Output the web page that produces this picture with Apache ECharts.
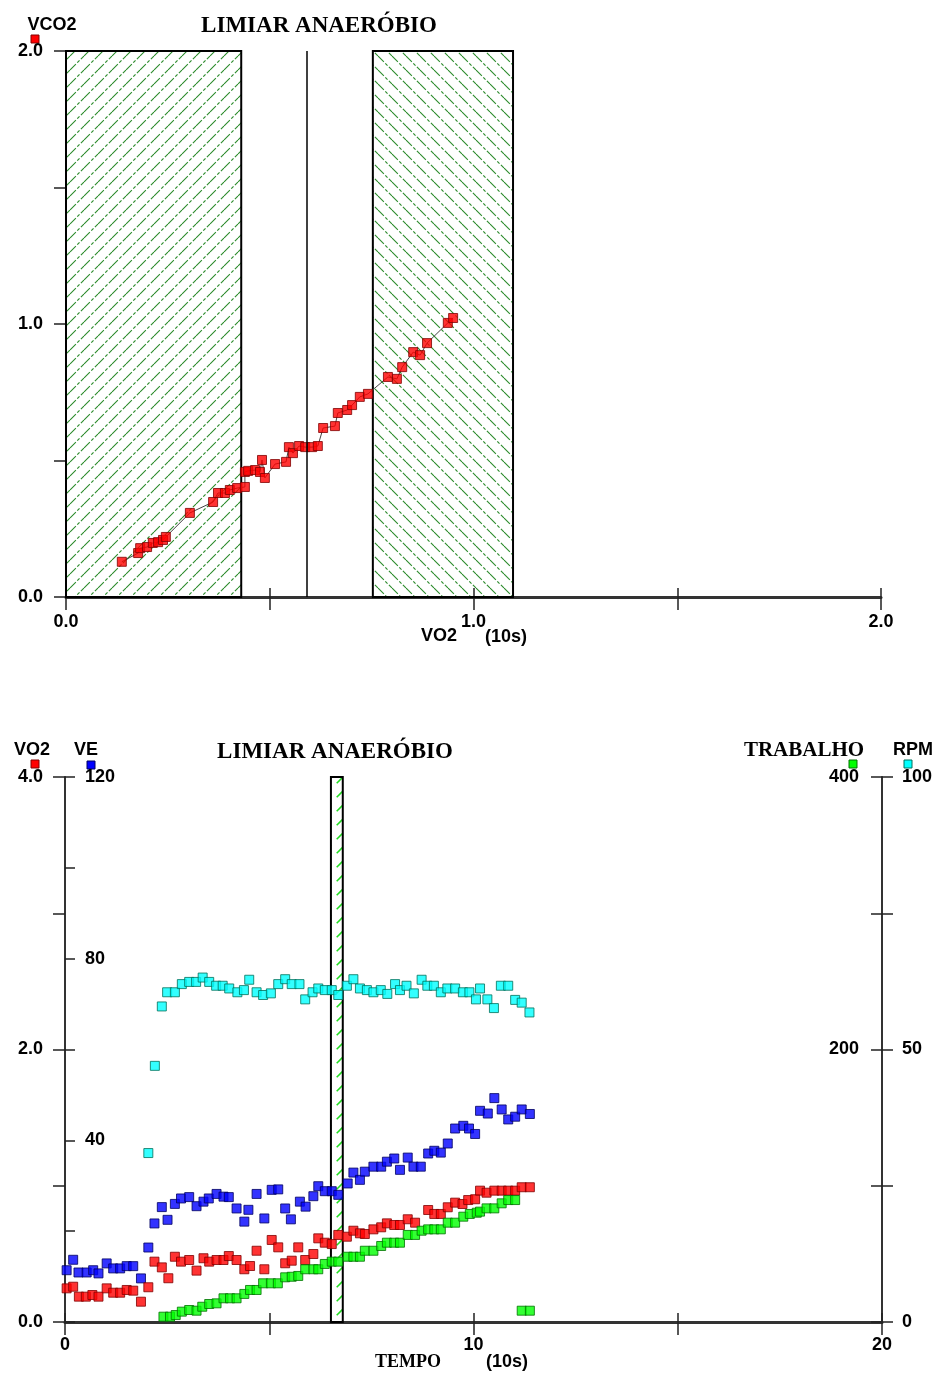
<!DOCTYPE html>
<html><head><meta charset="utf-8">
<script src="https://cdn.jsdelivr.net/npm/echarts@6/dist/echarts.min.js"></script>
<style>html,body{margin:0;padding:0;background:#fff}#c{width:939px;height:1384px}</style>
</head><body><div id="c"></div>
<script>
// ---------- TOP CHART DATA (VCO2 vs VO2) ----------
const vo2Top = [0.137,0.177,0.182,0.199,0.213,0.226,0.238,0.245,0.304,0.361,0.373,0.390,0.402,0.420,0.439,0.439,0.447,0.464,0.476,0.481,0.488,0.513,0.540,0.547,0.557,0.572,0.587,0.604,0.618,0.631,0.660,0.667,0.690,0.702,0.721,0.741,0.790,0.812,0.825,0.852,0.869,0.886,0.937,0.950];
const vco2Top = [0.129,0.161,0.179,0.183,0.198,0.201,0.209,0.220,0.308,0.348,0.381,0.381,0.392,0.399,0.403,0.458,0.462,0.465,0.458,0.502,0.436,0.487,0.495,0.549,0.527,0.553,0.549,0.549,0.553,0.619,0.626,0.674,0.685,0.703,0.733,0.744,0.806,0.799,0.842,0.897,0.886,0.930,1.004,1.022];
const topHatchStart = [0, 0.753];
const topHatchEnd = [0.43, 1.097];
const topThreshold = 0.591;
const topXLabelValues = [0, 1, 2];
const topYLabelValues = [0, 1, 2];

// ---------- BOTTOM CHART DATA (vs TEMPO) ----------
const tVO2 = [0.04,0.20,0.34,0.51,0.67,0.82,1.02,1.18,1.35,1.51,1.67,1.86,2.04,2.19,2.37,2.53,2.69,2.84,3.04,3.22,3.39,3.53,3.71,3.88,4.01,4.20,4.39,4.53,4.69,4.88,5.06,5.22,5.39,5.55,5.71,5.88,6.08,6.20,6.36,6.53,6.69,6.90,7.06,7.22,7.34,7.55,7.74,7.88,8.06,8.20,8.39,8.57,8.89,9.04,9.20,9.37,9.55,9.73,9.87,10.04,10.16,10.32,10.51,10.69,10.85,11.02,11.18,11.38];
const vo2 = [0.247,0.259,0.186,0.186,0.198,0.186,0.247,0.215,0.215,0.235,0.230,0.149,0.255,0.443,0.401,0.321,0.479,0.443,0.455,0.377,0.468,0.443,0.455,0.455,0.484,0.455,0.387,0.411,0.523,0.387,0.602,0.548,0.431,0.450,0.548,0.455,0.499,0.614,0.582,0.572,0.639,0.626,0.670,0.651,0.646,0.680,0.695,0.724,0.712,0.712,0.754,0.729,0.822,0.793,0.793,0.842,0.876,0.866,0.895,0.901,0.964,0.949,0.964,0.964,0.964,0.964,0.989,0.989];
const tVE = [0.04,0.20,0.33,0.53,0.69,0.82,1.02,1.18,1.35,1.51,1.67,1.86,2.04,2.19,2.37,2.51,2.69,2.84,3.04,3.22,3.39,3.52,3.71,3.88,4.01,4.20,4.39,4.49,4.69,4.88,5.06,5.22,5.39,5.53,5.75,5.89,6.08,6.20,6.36,6.53,6.69,6.92,7.06,7.22,7.34,7.55,7.74,7.88,8.06,8.20,8.39,8.53,8.71,8.89,9.04,9.20,9.37,9.55,9.75,9.89,10.04,10.16,10.35,10.51,10.69,10.85,11.02,11.18,11.38];
const ve = [11.4,13.7,10.9,10.9,11.4,10.7,12.9,11.8,11.8,12.3,12.3,9.6,16.4,21.7,25.3,22.5,26.0,27.2,27.5,25.5,26.5,27.2,28.2,27.6,27.5,25.0,22.1,24.7,28.2,22.8,29.1,29.2,25.0,22.6,26.5,25.4,27.7,29.9,28.8,28.8,28.0,30.5,32.9,31.3,33.1,34.2,34.2,35.3,36.0,33.5,36.2,34.2,34.2,37.1,37.7,37.3,39.3,42.6,43.2,42.6,41.4,46.5,45.9,49.3,46.8,44.6,45.2,46.8,45.8];
const tTrab = [2.41,2.57,2.71,2.86,3.04,3.22,3.36,3.53,3.71,3.88,4.04,4.20,4.39,4.53,4.69,4.85,5.04,5.21,5.39,5.55,5.71,5.88,6.08,6.20,6.36,6.53,6.69,6.92,7.06,7.22,7.34,7.55,7.74,7.88,8.06,8.20,8.39,8.57,8.73,8.89,9.04,9.20,9.37,9.55,9.75,9.91,10.08,10.16,10.32,10.51,10.69,10.85,11.02,11.18,11.38];
const trabalho = [3.9,3.9,5.1,7.6,8.8,8.3,11.2,13.2,13.7,17.4,17.4,17.4,20.6,23.5,23.5,28.4,28.4,28.4,32.8,33.2,33.8,38.7,38.7,38.7,42.6,44.3,44.3,47.9,47.9,47.9,52.3,52.3,55.8,58.2,58.2,58.2,63.9,63.9,67.0,68.0,68.0,68.0,72.9,72.9,77.3,79.3,80.2,81.0,83.4,83.4,87.1,89.5,89.5,8.3,8.3];
const tRPM = [2.04,2.20,2.37,2.50,2.69,2.86,3.04,3.21,3.37,3.53,3.70,3.86,4.02,4.22,4.38,4.51,4.69,4.85,5.04,5.22,5.39,5.55,5.74,5.88,6.06,6.20,6.36,6.53,6.69,6.90,7.06,7.22,7.39,7.55,7.73,7.89,8.08,8.20,8.36,8.54,8.73,8.87,9.03,9.20,9.36,9.55,9.74,9.90,10.06,10.16,10.34,10.50,10.67,10.85,11.02,11.18,11.37];
const rpm = [31.0,47.0,57.9,60.5,60.5,62.0,62.4,62.4,63.2,62.4,61.7,61.7,61.2,60.5,60.9,62.8,60.5,60.0,60.3,62.0,62.9,62.0,62.0,59.2,60.5,61.2,60.9,60.9,60.0,61.7,62.9,61.2,60.9,60.5,60.9,60.2,62.0,60.9,61.7,60.3,62.8,61.7,61.7,60.5,61.2,61.2,60.5,60.5,59.2,61.2,59.2,57.6,61.7,61.7,59.1,58.6,56.8];
const botHatchStart = [6.51];
const botHatchEnd = [6.80];
const botXLabelValues = [0, 10, 20];
const vo2LabelValues = [0, 2, 4];
const veLabelValues = [40, 80, 120];
const trabLabelValues = [200, 400];
const rpmLabelValues = [0, 50, 100];

// ---------- helpers ----------
function zip(a, b) { return a.map((v, i) => [v, b[i]]); }
function makeHatch(size, color, dir, segs, lw) {
  const c = document.createElement('canvas');
  c.width = size; c.height = size;
  const g = c.getContext('2d');
  g.strokeStyle = color; g.lineWidth = lw;
  for (let k = -size; k <= size; k += size) {
    for (const s of segs) {
      g.beginPath();
      if (dir > 0) {
        g.moveTo(k + s[0] * size, size - s[0] * size);
        g.lineTo(k + s[1] * size, size - s[1] * size);
      } else {
        g.moveTo(k + s[0] * size, s[0] * size);
        g.lineTo(k + s[1] * size, s[1] * size);
      }
      g.stroke();
    }
  }
  return c;
}
const hatchDarkFwd = makeHatch(14, '#2a8a2a', 1, [[0.0, 0.42], [0.52, 0.68], [0.78, 1.0]], 1.1);
const hatchDarkBack = makeHatch(14, '#2a8a2a', -1, [[0.0, 0.42], [0.52, 0.68], [0.78, 1.0]], 1.1);
const hatchLight = makeHatch(14, '#22dd22', 1, [[0.05, 0.65]], 1.6);

const SANS = '"Liberation Sans", Arial, sans-serif';
const SERIF = '"Liberation Serif", "Times New Roman", serif';
const lblStyle = { fontFamily: SANS, fontWeight: 'bold', fontSize: 18, color: '#000' };

function fmt(list, dec) { return v => list.some(x => Math.abs(x - v) < 1e-9) ? v.toFixed(dec) : ''; }

function hatchSeries(xi, yi, starts, ends, patterns) {
  return {
    type: 'custom', xAxisIndex: xi, yAxisIndex: yi, z: 1, silent: true,
    data: starts.map((s, i) => [s, ends[i], i]),
    renderItem(params, api) {
      const cs = params.coordSys;
      const x0 = api.coord([api.value(0), 0])[0];
      const x1 = api.coord([api.value(1), 0])[0];
      return {
        type: 'rect',
        shape: { x: x0, y: cs.y, width: x1 - x0, height: cs.height },
        style: { fill: { image: patterns[api.value(2)], repeat: 'repeat' }, stroke: '#000', lineWidth: 2 }
      };
    }
  };
}

function sq(color, border) {
  return { color: color, borderColor: border, borderWidth: 1 };
}

const axisLineX = { show: true, onZero: false, lineStyle: { color: '#333', width: 3 } };
const axisLineY = { show: true, onZero: false, lineStyle: { color: '#333', width: 2 } };
const tickStyle = { color: '#222', width: 1.5 };
const MS = 9;

const option = {
  backgroundColor: '#fff',
  animation: false,
  grid: [
    { left: 66, top: 51, width: 815, height: 546 },
    { left: 65, top: 777, width: 817, height: 545 }
  ],
  xAxis: [
    { gridIndex: 0, type: 'value', position: 'bottom', min: 0, max: 2, interval: 0.5,
      axisLine: axisLineX, axisTick: { show: true, length: 13, lineStyle: tickStyle },
      axisLabel: Object.assign({ margin: 16, formatter: fmt(topXLabelValues, 1) }, lblStyle),
      splitLine: { show: false } },
    { gridIndex: 0, type: 'value', position: 'bottom', min: 0, max: 2, interval: 0.5,
      axisLine: { show: false, onZero: false }, axisTick: { show: true, inside: true, length: 9, lineStyle: tickStyle },
      axisLabel: { show: false }, splitLine: { show: false } },
    { gridIndex: 1, type: 'value', position: 'bottom', min: 0, max: 20, interval: 5,
      axisLine: axisLineX, axisTick: { show: true, length: 13, lineStyle: tickStyle },
      axisLabel: Object.assign({ margin: 14, formatter: fmt(botXLabelValues, 0) }, lblStyle),
      splitLine: { show: false } },
    { gridIndex: 1, type: 'value', position: 'bottom', min: 0, max: 20, interval: 5,
      axisLine: { show: false, onZero: false }, axisTick: { show: true, inside: true, length: 9, lineStyle: tickStyle },
      axisLabel: { show: false }, splitLine: { show: false } }
  ],
  yAxis: [
    { gridIndex: 0, type: 'value', position: 'left', min: 0, max: 2, interval: 0.5,
      axisLine: axisLineY, axisTick: { show: true, length: 12, lineStyle: tickStyle },
      axisLabel: Object.assign({ margin: 23, formatter: fmt(topYLabelValues, 1) }, lblStyle),
      splitLine: { show: false } },
    { gridIndex: 1, type: 'value', position: 'left', min: 0, max: 4, interval: 1,
      axisLine: axisLineY, axisTick: { show: true, length: 12, lineStyle: tickStyle },
      axisLabel: Object.assign({ margin: 22, formatter: fmt(vo2LabelValues, 1) }, lblStyle),
      splitLine: { show: false } },
    { gridIndex: 1, type: 'value', position: 'left', min: 0, max: 120, interval: 20,
      axisLine: { show: false, onZero: false }, axisTick: { show: true, inside: true, length: 10, lineStyle: tickStyle },
      axisLabel: Object.assign({ inside: true, margin: 20, formatter: v => (veLabelValues.includes(v) ? String(v) : '') }, lblStyle),
      splitLine: { show: false } },
    { gridIndex: 1, type: 'value', position: 'right', min: 0, max: 400, interval: 100,
      axisLine: axisLineY, axisTick: { show: true, inside: true, length: 11, lineStyle: tickStyle },
      axisLabel: Object.assign({ inside: true, margin: 23, formatter: v => (trabLabelValues.includes(v) ? String(v) : '') }, lblStyle),
      splitLine: { show: false } },
    { gridIndex: 1, type: 'value', position: 'right', min: 0, max: 100, interval: 25,
      axisLine: { show: false, onZero: false }, axisTick: { show: true, length: 11, lineStyle: tickStyle },
      axisLabel: Object.assign({ margin: 20, formatter: v => (rpmLabelValues.includes(v) ? String(v) : '') }, lblStyle),
      splitLine: { show: false } }
  ],
  series: [
    hatchSeries(0, 0, topHatchStart, topHatchEnd, [hatchDarkFwd, hatchDarkBack]),
    { type: 'line', xAxisIndex: 0, yAxisIndex: 0, z: 3, silent: true, symbol: 'none',
      data: zip(vo2Top, vco2Top), lineStyle: { color: '#444', width: 1 },
      markLine: { silent: true, symbol: 'none', label: { show: false },
        lineStyle: { color: '#000', width: 1.5, type: 'solid' },
        data: [{ xAxis: topThreshold }] } },
    { type: 'scatter', xAxisIndex: 0, yAxisIndex: 0, z: 4, symbol: 'rect', symbolSize: MS,
      data: zip(vo2Top, vco2Top), itemStyle: sq('#ff0000', '#800000') },

    hatchSeries(2, 1, botHatchStart, botHatchEnd, [hatchLight]),
    { type: 'scatter', xAxisIndex: 2, yAxisIndex: 4, z: 4, symbol: 'rect', symbolSize: MS,
      data: zip(tRPM, rpm), itemStyle: sq('#00ffff', '#00705a') },
    { type: 'scatter', xAxisIndex: 2, yAxisIndex: 2, z: 4, symbol: 'rect', symbolSize: MS,
      data: zip(tVE, ve), itemStyle: sq('#0000ff', '#000060') },
    { type: 'scatter', xAxisIndex: 2, yAxisIndex: 1, z: 4, symbol: 'rect', symbolSize: MS,
      data: zip(tVO2, vo2), itemStyle: sq('#ff0000', '#800000') },
    { type: 'scatter', xAxisIndex: 2, yAxisIndex: 3, z: 4, symbol: 'rect', symbolSize: MS,
      data: zip(tTrab, trabalho), itemStyle: sq('#00ff00', '#007000') }
  ],
  graphic: [
    // top chart
    { type: 'text', style: { text: 'LIMIAR ANAERÓBIO', x: 319, y: 26, align: 'center', verticalAlign: 'middle', font: 'bold 23px ' + SERIF, fill: '#000' } },
    { type: 'text', style: { text: 'VCO2', x: 52, y: 25, align: 'center', verticalAlign: 'middle', font: 'bold 18px ' + SANS, fill: '#000' } },
    { type: 'rect', shape: { x: 31, y: 35, width: 8, height: 8 }, style: { fill: '#ff0000', stroke: '#800000', lineWidth: 1 } },
    { type: 'text', style: { text: 'VO2', x: 439, y: 636, align: 'center', verticalAlign: 'middle', font: 'bold 18px ' + SANS, fill: '#000' } },
    { type: 'text', style: { text: '(10s)', x: 506, y: 637, align: 'center', verticalAlign: 'middle', font: 'bold 18px ' + SANS, fill: '#000' } },
    // bottom chart
    { type: 'text', style: { text: 'LIMIAR ANAERÓBIO', x: 335, y: 752, align: 'center', verticalAlign: 'middle', font: 'bold 23px ' + SERIF, fill: '#000' } },
    { type: 'text', style: { text: 'VO2', x: 32, y: 750, align: 'center', verticalAlign: 'middle', font: 'bold 18px ' + SANS, fill: '#000' } },
    { type: 'rect', shape: { x: 31, y: 760, width: 8, height: 8 }, style: { fill: '#ff0000', stroke: '#800000', lineWidth: 1 } },
    { type: 'text', style: { text: 'VE', x: 86, y: 750, align: 'center', verticalAlign: 'middle', font: 'bold 18px ' + SANS, fill: '#000' } },
    { type: 'rect', shape: { x: 87, y: 761, width: 8, height: 8 }, style: { fill: '#0000ff', stroke: '#000060', lineWidth: 1 } },
    { type: 'text', style: { text: 'TRABALHO', x: 804, y: 751, align: 'center', verticalAlign: 'middle', font: 'bold 21px ' + SERIF, fill: '#000' } },
    { type: 'rect', shape: { x: 849, y: 760, width: 8, height: 8 }, style: { fill: '#00ff00', stroke: '#007000', lineWidth: 1 } },
    { type: 'text', style: { text: 'RPM', x: 913, y: 750, align: 'center', verticalAlign: 'middle', font: 'bold 18px ' + SANS, fill: '#000' } },
    { type: 'rect', shape: { x: 904, y: 760, width: 8, height: 8 }, style: { fill: '#00ffff', stroke: '#00705a', lineWidth: 1 } },
    { type: 'text', style: { text: 'TEMPO', x: 408, y: 1362, align: 'center', verticalAlign: 'middle', font: 'bold 18px ' + SERIF, fill: '#000' } },
    { type: 'text', style: { text: '(10s)', x: 507, y: 1362, align: 'center', verticalAlign: 'middle', font: 'bold 18px ' + SANS, fill: '#000' } }
  ]
};

const chart = echarts.init(document.getElementById('c'));
chart.setOption(option);
</script>
</body></html>
